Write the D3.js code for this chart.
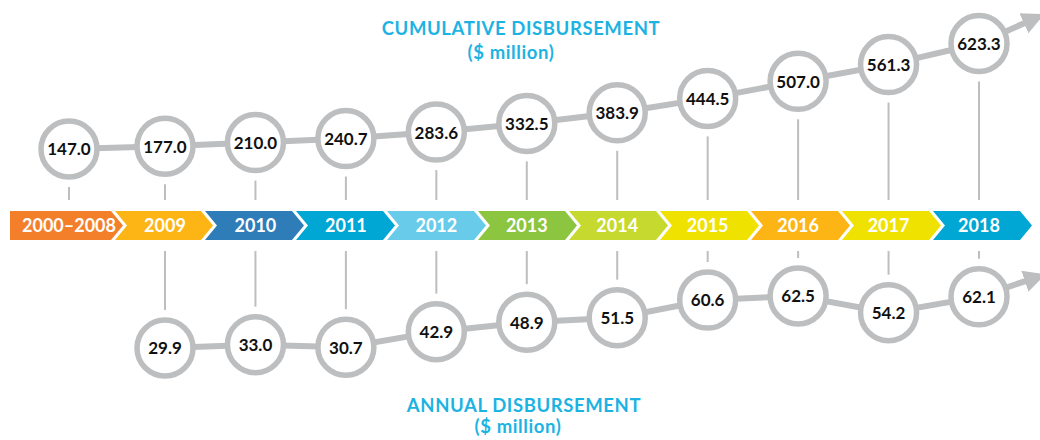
<!DOCTYPE html>
<html>
<head>
<meta charset="utf-8">
<script src="https://cdnjs.cloudflare.com/ajax/libs/d3/7.8.5/d3.min.js"></script>
<style>
    body { margin: 0; background: #fff; }
    text { font-family: Lato, "Noto Sans", sans-serif; }
</style>
</head>
<body>
<div id="chart"></div>
<script>

// timeline categories
var periods = ["2000–2008", "2009", "2010", "2011", "2012", "2013", "2014", "2015", "2016", "2017", "2018"];

// $ million, cumulative (one per period)
var cumulative = [147.0, 177.0, 210.0, 240.7, 283.6, 332.5, 383.9, 444.5, 507.0, 561.3, 623.3];

// $ million, annual (2009 onwards)
var annualYears = ["2009", "2010", "2011", "2012", "2013", "2014", "2015", "2016", "2017", "2018"];
var annual = [29.9, 33.0, 30.7, 42.9, 48.9, 51.5, 60.6, 62.5, 54.2, 62.1];

var topTitle = ["CUMULATIVE DISBURSEMENT", "($ million)"];
var bottomTitle = ["ANNUAL DISBURSEMENT", "($ million)"];


TimelineChart = function(_parentElement){
    this.parentElement = _parentElement;
    this.initVis();
}


/*
 * Initialize visualization (svg, scales)
 */

TimelineChart.prototype.initVis = function(){
    var vis = this;

    vis.width = 1040;
    vis.height = 440;

    vis.svg = d3.select(vis.parentElement).append("svg")
        .attr("width", vis.width)
        .attr("height", vis.height);

    vis.grey = "#bcbec0";
    vis.blue = "#1cb3e3";

    // chevron bar
    vis.barLeft = 10;
    vis.barTop = 211;
    vis.barHeight = 29;
    vis.tip = 12;
    vis.gap = 4;

    // index -> x of the chevron point
    vis.tipScale = d3.scaleLinear()
        .domain([0, 1, periods.length - 1])
        .range([123, 213, 1032]);

    // index -> x of labels, stems and circles
    vis.x = d3.scaleLinear()
        .domain([0, 1, periods.length - 1])
        .range([69, 165, 979]);

    vis.yTop = d3.scalePow().exponent(2)
        .domain([d3.min(cumulative), d3.max(cumulative)])
        .range([149, 43.5]);

    vis.yBottom = d3.scalePow().exponent(2)
        .domain([d3.min(annual), 62.5])
        .range([348, 296]);

    vis.color = d3.scaleOrdinal()
        .domain(periods)
        .range(["#f47f2b", "#fdb515", "#2e7db8", "#00a6d4", "#69cbea", "#8cc540",
                "#c6d92e", "#f0e200", "#fdb515", "#f0e200", "#00a6d4"]);

    vis.r = 28;
    vis.fmt = d3.format(".1f");

    vis.wrangleData();
};


/*
 * Data wrangling
 */

TimelineChart.prototype.wrangleData = function(){
    var vis = this;

    vis.topData = periods.map(function(p, i) {
        return { period: p, index: i, value: cumulative[i] };
    });

    vis.bottomData = annualYears.map(function(p, i) {
        return { period: p, index: periods.indexOf(p), value: annual[i] };
    });

    vis.updateVis();
};


/*
 * The drawing function
 */

TimelineChart.prototype.updateVis = function(){
    var vis = this;
    var midY = vis.barTop + vis.barHeight / 2;
    var barBottom = vis.barTop + vis.barHeight;

    // chevrons
    vis.svg.selectAll(".chevron")
        .data(periods)
        .enter().append("polygon")
        .attr("class", "chevron")
        .attr("points", function(d, i) {
            var t = vis.tipScale(i);
            var pts;
            if (i == 0) {
                pts = [[vis.barLeft, vis.barTop], [t - vis.tip, vis.barTop], [t, midY],
                       [t - vis.tip, barBottom], [vis.barLeft, barBottom]];
            } else {
                var prev = vis.tipScale(i - 1);
                var left = prev - vis.tip + vis.gap;
                pts = [[left, vis.barTop], [t - vis.tip, vis.barTop], [t, midY],
                       [t - vis.tip, barBottom], [left, barBottom], [prev + vis.gap, midY]];
            }
            return pts.join(" ");
        })
        .style("fill", function(d) { return vis.color(d); });

    vis.svg.selectAll(".period-label")
        .data(periods)
        .enter().append("text")
        .attr("class", "period-label")
        .attr("x", function(d, i) { return vis.x(i); })
        .attr("y", midY)
        .attr("dy", "0.36em")
        .attr("text-anchor", "middle")
        .style("fill", "#fff")
        .style("font-weight", 700)
        .style("font-size", "18px")
        .text(function(d) { return d; });

    // stems
    vis.svg.selectAll(".stem-top")
        .data(vis.topData)
        .enter().append("line")
        .attr("class", "stem-top")
        .attr("x1", function(d) { return vis.x(d.index); })
        .attr("x2", function(d) { return vis.x(d.index); })
        .attr("y1", function(d) { return vis.yTop(d.value) + vis.r + 10; })
        .attr("y2", vis.barTop - 11)
        .style("stroke", vis.grey)
        .style("stroke-width", 2);

    vis.svg.selectAll(".stem-bottom")
        .data(vis.bottomData)
        .enter().append("line")
        .attr("class", "stem-bottom")
        .attr("x1", function(d) { return vis.x(d.index); })
        .attr("x2", function(d) { return vis.x(d.index); })
        .attr("y1", barBottom + 11)
        .attr("y2", function(d) { return vis.yBottom(d.value) - vis.r - 10; })
        .style("stroke", vis.grey)
        .style("stroke-width", 2);

    // arrow head
    vis.svg.append("defs").append("marker")
        .attr("id", "arrow")
        .attr("viewBox", "0 0 10 10")
        .attr("refX", 2)
        .attr("refY", 5)
        .attr("markerUnits", "userSpaceOnUse")
        .attr("markerWidth", 22)
        .attr("markerHeight", 24)
        .attr("orient", "auto")
        .append("path")
        .attr("d", "M0,0 L10,5 L0,10 Z")
        .style("fill", vis.grey);

    vis.drawSeries(vis.topData, vis.yTop, "top", [49, -22]);
    vis.drawSeries(vis.bottomData, vis.yBottom, "bottom", [50, -17]);

    // titles
    vis.drawTitle(topTitle, 35, 59, [521, 511]);
    vis.drawTitle(bottomTitle, 412, 433, [524, 518]);
};


TimelineChart.prototype.drawSeries = function(data, y, name, arrowDir){
    var vis = this;
    var last = data[data.length - 1];

    var line = d3.line()
        .x(function(d) { return vis.x(d.index); })
        .y(function(d) { return y(d.value); });

    vis.svg.append("path")
        .datum(data)
        .attr("class", "link-" + name)
        .attr("d", line)
        .style("fill", "none")
        .style("stroke", vis.grey)
        .style("stroke-width", 6);

    vis.svg.append("line")
        .attr("class", "arrow-" + name)
        .attr("x1", vis.x(last.index))
        .attr("y1", y(last.value))
        .attr("x2", vis.x(last.index) + arrowDir[0])
        .attr("y2", y(last.value) + arrowDir[1])
        .attr("marker-end", "url(#arrow)")
        .style("stroke", vis.grey)
        .style("stroke-width", 6);

    vis.svg.selectAll(".node-" + name)
        .data(data)
        .enter().append("circle")
        .attr("class", "node-" + name)
        .attr("cx", function(d) { return vis.x(d.index); })
        .attr("cy", function(d) { return y(d.value); })
        .attr("r", vis.r)
        .style("fill", "#fff")
        .style("stroke", vis.grey)
        .style("stroke-width", 5.5);

    vis.svg.selectAll(".value-" + name)
        .data(data)
        .enter().append("text")
        .attr("class", "value-" + name)
        .attr("x", function(d) { return vis.x(d.index); })
        .attr("y", function(d) { return y(d.value); })
        .attr("dy", "0.38em")
        .attr("text-anchor", "middle")
        .style("fill", "#111")
        .style("font-weight", 700)
        .style("font-size", "17px")
        .text(function(d) { return vis.fmt(d.value); });
};


TimelineChart.prototype.drawTitle = function(lines, y1, y2, xs){
    var vis = this;

    vis.svg.selectAll(null)
        .data(lines)
        .enter().append("text")
        .attr("x", function(d, i) { return xs[i]; })
        .attr("y", function(d, i) { return i == 0 ? y1 : y2; })
        .attr("text-anchor", "middle")
        .style("fill", vis.blue)
        .style("font-weight", 700)
        .style("font-size", "18.5px")
        .style("letter-spacing", "0.6px")
        .text(function(d) { return d; });
};


var chart = new TimelineChart("#chart");

</script>
</body>
</html>
